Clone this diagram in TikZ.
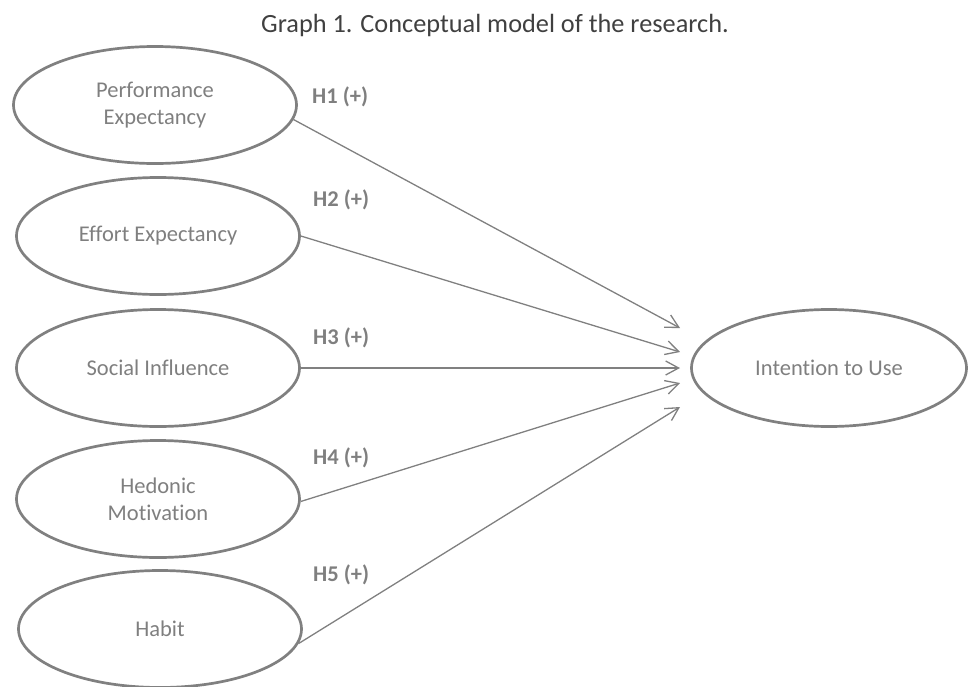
\documentclass[tikz,border=0pt]{standalone}
\usepackage{fontspec}
\setmainfont{Carlito}[Ligatures=NoCommon]
\usetikzlibrary{shapes.geometric,arrows.meta}
\definecolor{linegray}{HTML}{808080}
\definecolor{textgray}{HTML}{7F7F7F}
\definecolor{titlegray}{HTML}{404040}

\begin{document}
\begin{tikzpicture}[x=1pt,y=-1pt,
    construct/.style={ellipse,draw=linegray,line width=2.7pt,minimum width=283pt,minimum height=117pt,inner sep=0pt,text=textgray,align=center,font=\fontsize{22.5}{27}\selectfont},
    hyp/.style={draw=linegray,line width=1.3pt,-{Straight Barb[length=13pt,width=14pt]}},
    hlabel/.style={anchor=west,inner sep=0pt,text=textgray,font=\fontsize{22.5}{26}\selectfont\bfseries}]
  \useasboundingbox (0,0) rectangle (970,686);
  \node[anchor=base,text=titlegray,font=\fontsize{26.3}{31}\selectfont] (title) at (495,32) {Graph 1. Conceptual model of the research.};

  \node[construct] (pe) at (155,105) {Performance\\Expectancy};
  \node[construct] (ee) at (158,236) {Effort Expectancy};
  \node[construct] (si) at (158,368) {Social Influence};
  \node[construct] (hm) at (158,499) {Hedonic\\Motivation};
  \node[construct] (hb) at (160,629) {Habit};
  \node[construct,minimum width=275pt] (itu) at (829,368) {Intention to Use};

  \coordinate (t1) at (680,328);
  \coordinate (t2) at (680,352);
  \coordinate (t3) at (680,368);
  \coordinate (t4) at (680,383);
  \coordinate (t5) at (680,407);

  \draw[hyp] (pe.-6) -- (t1);
  \draw[hyp] (ee.east) -- (t2);
  \draw[hyp] (si.east) -- (t3);
  \draw[hyp] (hm.-1) -- (t4);
  \draw[hyp] (hb.-6) -- (t5);

  \node[hlabel] (h1) at (312,97) {H1 (+)};
  \node[hlabel] (h2) at (313,200) {H2 (+)};
  \node[hlabel] (h3) at (313,338) {H3 (+)};
  \node[hlabel] (h4) at (313,458) {H4 (+)};
  \node[hlabel] (h5) at (313,575) {H5 (+)};
\end{tikzpicture}
\end{document}
